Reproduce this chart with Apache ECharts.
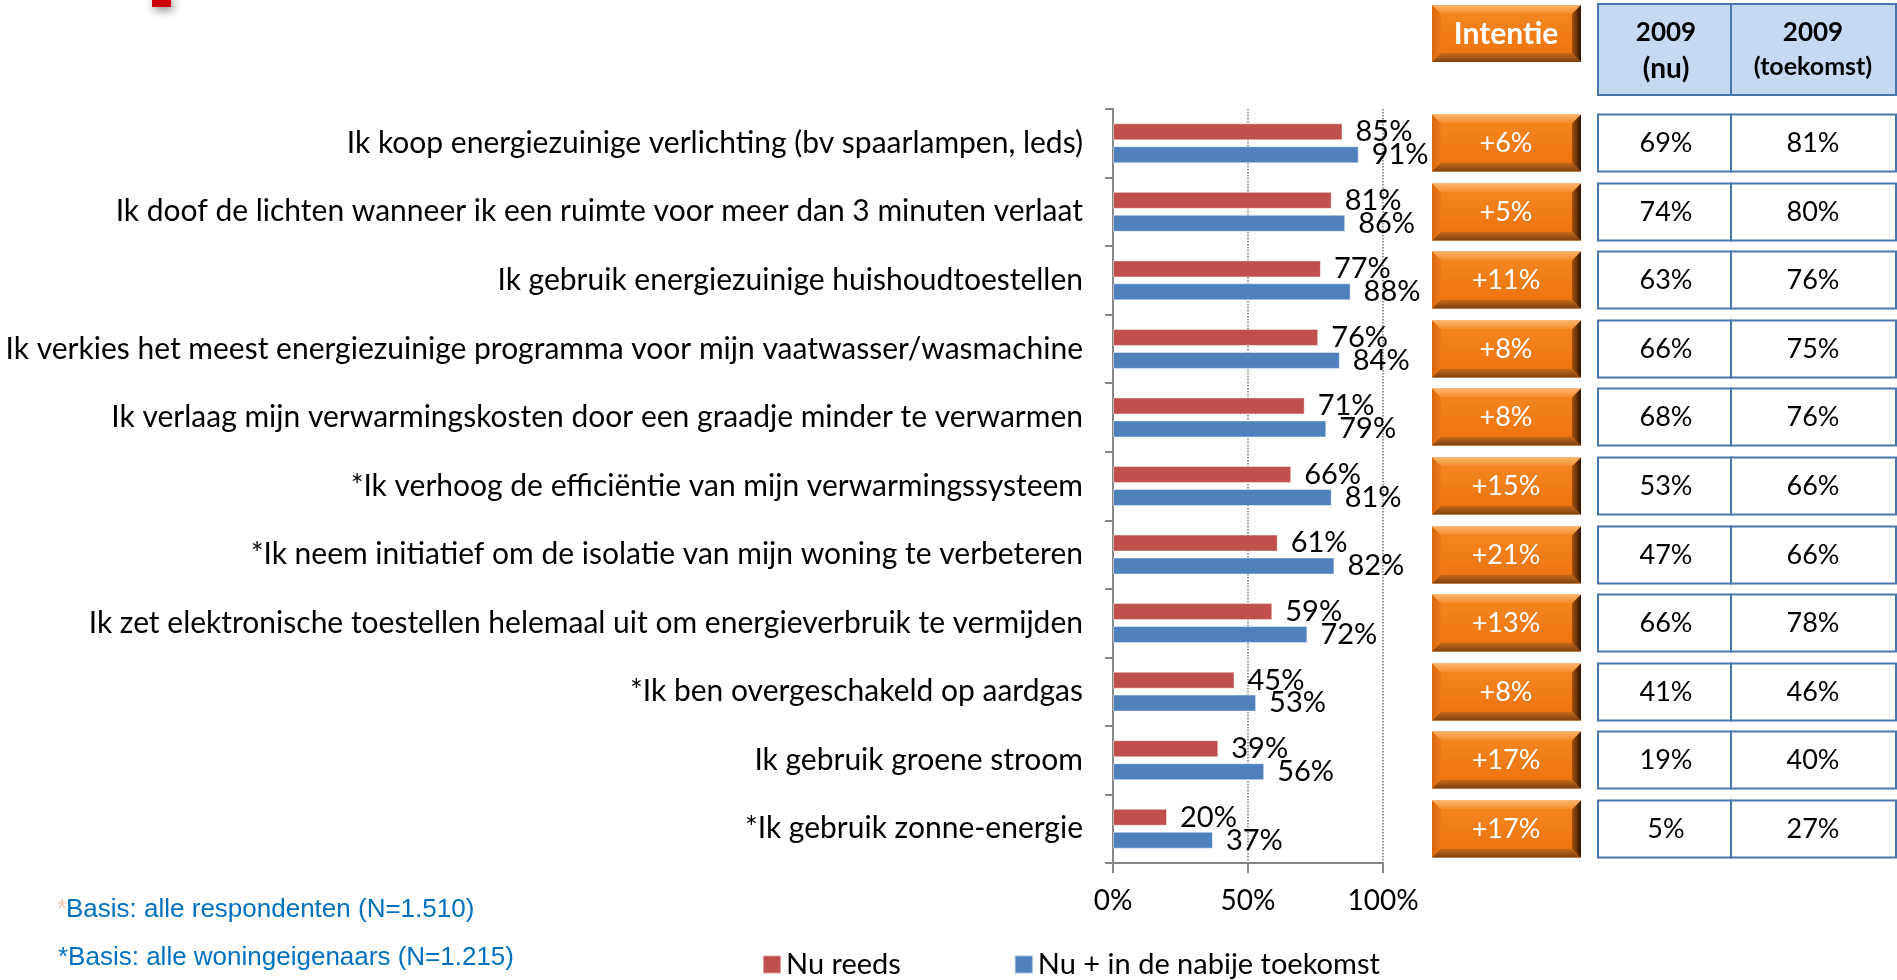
<!DOCTYPE html>
<html>
<head>
<meta charset="utf-8">
<script src="https://cdn.jsdelivr.net/npm/echarts@6/dist/echarts.min.js"></script>
<style>
  html, body { margin: 0; padding: 0; background: #fff; }
  #chart { width: 1897px; height: 980px; }
</style>
</head>
<body>
<div id="chart"></div>
<script>
// categorieën, van boven naar onder
const categories = [
  'Ik koop energiezuinige verlichting (bv spaarlampen, leds)',
  'Ik doof de lichten wanneer ik een ruimte voor meer dan 3 minuten verlaat',
  'Ik gebruik energiezuinige huishoudtoestellen',
  'Ik verkies het meest energiezuinige programma voor mijn vaatwasser/wasmachine',
  'Ik verlaag mijn verwarmingskosten door een graadje minder te verwarmen',
  '*Ik verhoog de efficiëntie van mijn verwarmingssysteem',
  '*Ik neem initiatief om de isolatie van mijn woning te verbeteren',
  'Ik zet elektronische toestellen helemaal uit om energieverbruik te vermijden',
  '*Ik ben overgeschakeld op aardgas',
  'Ik gebruik groene stroom',
  '*Ik gebruik zonne-energie'
];
const nuReeds = [85, 81, 77, 76, 71, 66, 61, 59, 45, 39, 20];
const nuToekomst = [91, 86, 88, 84, 79, 81, 82, 72, 53, 56, 37];
// tabel rechts
const intentie = [6, 5, 11, 8, 8, 15, 21, 13, 8, 17, 17];
const nu2009 = [69, 74, 63, 66, 68, 53, 47, 66, 41, 19, 5];
const toekomst2009 = [81, 80, 76, 75, 76, 66, 66, 78, 46, 40, 27];
const xTicks = [0, 50, 100];

const FONT = 'Lato';
const BORDER = '#4A76AE';
const chart = echarts.init(document.getElementById('chart'));

// oranje knop met schuine rand
function bevelBox(x, y, w, h) {
  const b = 9;
  const G = echarts.graphic.LinearGradient;
  return [
    { type: 'rect', shape: { x: x, y: y, width: w, height: h }, style: { fill: '#EF7A14' } },
    { type: 'polygon', shape: { points: [[x, y], [x + w, y], [x + w - b, y + b], [x + b, y + b]] },
      style: { fill: new G(0, 0, 0, 1, [{ offset: 0, color: '#FBB56B' }, { offset: 1, color: '#F38A2C' }]) } },
    { type: 'polygon', shape: { points: [[x, y + h], [x + w, y + h], [x + w - b, y + h - b], [x + b, y + h - b]] },
      style: { fill: new G(0, 0, 0, 1, [{ offset: 0, color: '#C76A1A' }, { offset: 1, color: '#7E4110' }]) } },
    { type: 'polygon', shape: { points: [[x, y], [x + b, y + b], [x + b, y + h - b], [x, y + h]] },
      style: { fill: new G(0, 0, 1, 0, [{ offset: 0, color: '#D8680E' }, { offset: 1, color: '#EE7A18' }]) } },
    { type: 'polygon', shape: { points: [[x + w, y], [x + w - b, y + b], [x + w - b, y + h - b], [x + w, y + h]] },
      style: { fill: new G(0, 0, 1, 0, [{ offset: 0, color: '#A85410' }, { offset: 1, color: '#2B1403' }]) } },
    { type: 'rect', shape: { x: x + b, y: y + b, width: w - 2 * b, height: h - 2 * b },
      style: { fill: new G(0, 0, 0, 1, [{ offset: 0, color: '#F3851F' }, { offset: 1, color: '#EE7512' }]) } }
  ];
}

function cell(x, y, w, h, fill) {
  return { type: 'rect', shape: { x: x, y: y, width: w, height: h },
    style: { fill: fill, stroke: BORDER, lineWidth: 2 } };
}

function txt(x, y, s, size, color, bold, family) {
  return { type: 'text', x: x, y: y,
    style: { text: s, fill: color, fontSize: size, fontWeight: bold ? 'bold' : 'normal',
      fontFamily: family || FONT, align: 'center', verticalAlign: 'middle' } };
}

function renderRow(params, api) {
  const i = api.value(1);
  const cy = Math.round(api.coord([0, i])[1]);
  const x0 = params.coordSys.x;
  const h = 57, y0 = cy - h / 2;
  const kids = bevelBox(x0, y0, 149, h);
  kids.push(txt(x0 + 74, cy, '+' + intentie[i] + '%', 27, '#fff'));
  kids.push(cell(1598, y0, 133, h, '#fff'));
  kids.push(cell(1731, y0, 165, h, '#fff'));
  kids.push(txt(1666, cy, nu2009[i] + '%', 27, '#000'));
  kids.push(txt(1813, cy, toekomst2009[i] + '%', 27, '#000'));
  return { type: 'group', children: kids };
}

const headerEls = bevelBox(1432, 5, 149, 57).concat([
  txt(1506, 34, 'Intentie', 30, '#fff', true),
  cell(1598, 4, 133, 91, '#C6D9F1'),
  cell(1731, 4, 165, 91, '#C6D9F1'),
  txt(1666, 33, '2009', 26, '#000', true),
  txt(1666, 69, '(nu)', 28, '#000', true),
  txt(1813, 33, '2009', 26, '#000', true),
  txt(1813, 67, '(toekomst)', 25, '#000', true)
]);

const option = {
  animation: false,
  textStyle: { fontFamily: FONT },
  grid: [
    { left: 1113, top: 109, width: 270, height: 754 },
    { left: 1432, top: 109, width: 465, height: 754 }
  ],
  legend: {
    data: ['Nu reeds', 'Nu + in de nabije toekomst'],
    left: 762, top: 950, padding: 0,
    icon: 'rect', itemWidth: 18, itemHeight: 18, itemGap: 113,
    textStyle: { fontSize: 29, color: '#000', fontFamily: FONT }
  },
  xAxis: [
    {
      type: 'value', min: xTicks[0], max: xTicks[xTicks.length - 1], interval: 50,
      axisLine: { show: true, lineStyle: { color: '#868686', width: 2 } },
      axisTick: { show: true, length: 10, lineStyle: { color: '#868686', width: 2 } },
      axisLabel: { formatter: '{value}%', fontSize: 28, color: '#000', margin: 24 },
      splitLine: { show: true, lineStyle: { type: 'dotted', color: '#777', width: 1.5 } }
    },
    { gridIndex: 1, type: 'value', min: 0, max: 1, show: false }
  ],
  yAxis: [
    {
      type: 'category', inverse: true, data: categories,
      axisLine: { show: true, lineStyle: { color: '#868686', width: 2 } },
      axisTick: { show: true, length: 8, lineStyle: { color: '#868686', width: 2 } },
      axisLabel: { fontSize: 30, color: '#000', margin: 30 }
    },
    { gridIndex: 1, type: 'category', inverse: true, data: categories, show: false }
  ],
  series: [
    {
      name: 'Nu reeds', type: 'bar', data: nuReeds,
      barWidth: 17, barGap: '35%',
      itemStyle: { color: '#C0504D', borderColor: 'rgba(255,255,255,0.45)', borderWidth: 1 },
      label: { show: true, position: 'right', distance: 13, formatter: '{c}%', fontSize: 29, color: '#000' }
    },
    {
      name: 'Nu + in de nabije toekomst', type: 'bar', data: nuToekomst,
      barWidth: 17,
      itemStyle: { color: '#4F81BD', borderColor: 'rgba(255,255,255,0.45)', borderWidth: 1 },
      label: { show: true, position: 'right', distance: 13, formatter: '{c}%', fontSize: 29, color: '#000' }
    },
    {
      type: 'custom', xAxisIndex: 1, yAxisIndex: 1,
      data: categories.map((c, i) => [0, i]),
      encode: { x: 0, y: 1 },
      renderItem: renderRow
    }
  ],
  graphic: headerEls.concat([
    { type: 'rect', shape: { x: 152, y: -3, width: 19, height: 10 },
      style: { fill: '#CC0000', shadowBlur: 10, shadowColor: 'rgba(0,0,0,0.5)', shadowOffsetX: 2, shadowOffsetY: 3 } },
    { type: 'text', x: 57, y: 910,
      style: { text: '*', fill: '#F4C8B4', fontSize: 26, fontFamily: 'Liberation Sans', verticalAlign: 'middle' } },
    { type: 'text', x: 66, y: 910,
      style: { text: 'Basis: alle respondenten (N=1.510)', fill: '#0070C0', fontSize: 26, fontFamily: 'Liberation Sans', verticalAlign: 'middle' } },
    { type: 'text', x: 58, y: 958,
      style: { text: '*Basis: alle woningeigenaars (N=1.215)', fill: '#0070C0', fontSize: 26, fontFamily: 'Liberation Sans', verticalAlign: 'middle' } }
  ])
};

chart.setOption(option);
</script>
</body>
</html>
